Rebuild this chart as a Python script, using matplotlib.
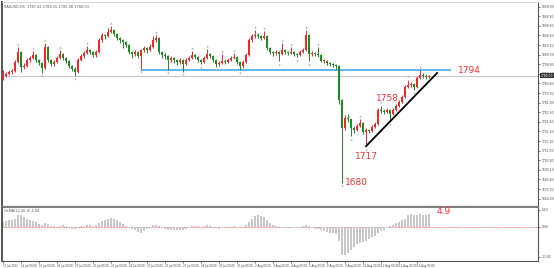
import numpy as np
import matplotlib.pyplot as plt

# XAUUSD H4 candles
closes = [1788, 1790, 1792, 1793, 1802, 1812, 1797, 1798, 1804, 1806,
          1809, 1804, 1801, 1796, 1817, 1804, 1800, 1802, 1806, 1810,
          1806, 1803, 1798, 1795, 1792, 1804, 1808, 1811, 1814, 1812,
          1809, 1812, 1824, 1829, 1828, 1832, 1834, 1830, 1826, 1824,
          1822, 1819, 1812, 1810, 1812, 1808, 1814, 1816, 1814, 1817,
          1824, 1826, 1812, 1809, 1808, 1804, 1806, 1804, 1802, 1804,
          1800, 1804, 1806, 1809, 1807, 1804, 1802, 1806, 1810, 1808,
          1804, 1800, 1801, 1803, 1802, 1804, 1806, 1807, 1802, 1798,
          1802, 1809, 1824, 1828, 1829, 1828, 1826, 1828, 1816, 1812,
          1811, 1812, 1810, 1814, 1812, 1811, 1812, 1810, 1809, 1812,
          1814, 1829, 1810, 1811, 1810, 1809, 1803, 1803, 1801, 1800,
          1799, 1798, 1764, 1735, 1746, 1744, 1735, 1733, 1737, 1740,
          1731, 1733, 1732, 1736, 1739, 1754, 1753, 1752, 1754, 1750,
          1754, 1758, 1762, 1767, 1777, 1779, 1780, 1777, 1786, 1789,
          1788, 1787, 1788]
highs = [1794, 1792, 1794, 1795, 1804, 1817, 1813, 1801, 1806, 1808,
         1813, 1810, 1805, 1802, 1821, 1818, 1805, 1804, 1808, 1814,
         1811, 1807, 1804, 1799, 1797, 1806, 1810, 1813, 1818, 1815,
         1813, 1814, 1826, 1831, 1830, 1836, 1838, 1835, 1831, 1827,
         1825, 1823, 1820, 1813, 1814, 1813, 1815, 1818, 1817, 1820,
         1828, 1829, 1827, 1813, 1811, 1809, 1808, 1807, 1805, 1806,
         1805, 1806, 1808, 1813, 1810, 1808, 1805, 1808, 1815, 1811,
         1809, 1805, 1803, 1810, 1805, 1806, 1808, 1811, 1808, 1803,
         1804, 1811, 1826, 1830, 1834, 1831, 1829, 1833, 1829, 1817,
         1813, 1814, 1813, 1821, 1815, 1813, 1817, 1813, 1811, 1814,
         1816, 1834, 1830, 1813, 1812, 1817, 1810, 1805, 1804, 1802,
         1801, 1800, 1799, 1765, 1749, 1750, 1745, 1737, 1739, 1744,
         1741, 1735, 1734, 1738, 1741, 1756, 1758, 1755, 1756, 1755,
         1756, 1760, 1764, 1769, 1779, 1784, 1782, 1781, 1788, 1794,
         1791, 1790, 1789]
lows = [1784, 1787, 1789, 1790, 1792, 1801, 1792, 1795, 1797, 1802,
        1805, 1802, 1799, 1791, 1795, 1802, 1798, 1798, 1801, 1805,
        1804, 1801, 1796, 1793, 1788, 1791, 1803, 1806, 1810, 1810,
        1807, 1807, 1811, 1822, 1825, 1827, 1831, 1828, 1824, 1821,
        1816, 1817, 1810, 1806, 1808, 1806, 1795, 1812, 1811, 1813,
        1816, 1822, 1810, 1806, 1805, 1794, 1802, 1801, 1799, 1800,
        1792, 1799, 1803, 1805, 1805, 1802, 1800, 1801, 1805, 1806,
        1802, 1797, 1798, 1800, 1800, 1801, 1803, 1805, 1800, 1794,
        1796, 1801, 1808, 1822, 1826, 1826, 1824, 1825, 1814, 1810,
        1808, 1809, 1803, 1809, 1810, 1809, 1810, 1808, 1807, 1808,
        1811, 1813, 1803, 1808, 1808, 1807, 1802, 1801, 1799, 1798,
        1797, 1795, 1760, 1680, 1733, 1741, 1727, 1730, 1732, 1736,
        1729, 1717, 1730, 1731, 1735, 1738, 1751, 1750, 1751, 1742,
        1749, 1753, 1757, 1761, 1766, 1776, 1777, 1774, 1776, 1785,
        1786, 1785, 1786]
first_open = 1786

# oscillator histogram in the lower panel
osma = [2.0, 2.2, 2.4, 2.6, 3.0, 4.4, 4.6, 3.8, 3.0, 2.5,
        2.2, 1.8, 1.2, 0.8, 1.4, 1.0, 0.4, 0.2, 0.0, 0.3,
        0.5, 0.2, -0.2, -0.8, -0.9, -0.3, 0.2, 0.4, 0.6, 0.5,
        0.3, 0.8, 1.6, 2.2, 2.6, 3.0, 3.3, 3.0, 2.4, 1.8,
        1.0, 0.4, -0.4, -1.0, -1.4, -2.0, -2.4, -1.6, -0.8, -0.3,
        0.5, 0.6, 0.2, -0.4, -0.8, -1.2, -1.4, -1.5, -1.5, -1.2,
        -1.3, -0.8, -0.4, 0.2, 0.3, 0.1, -0.1, 0.2, 0.6, 0.4,
        -0.3, -0.7, -0.8, -0.5, -0.4, -0.2, 0.0, 0.2, -0.2, -0.5,
        -0.3, 0.5, 1.8, 3.0, 4.0, 4.6, 4.2, 3.6, 2.4, 1.4,
        0.8, 0.4, 0.0, -0.4, -0.6, -0.6, -0.5, -0.6, -0.7, -0.4,
        0.3, 0.8, 0.2, -0.5, -0.8, -1.0, -1.5, -1.9, -2.2, -2.4,
        -2.7, -3.0, -5.6, -11.0, -11.2, -10.2, -9.0, -8.0, -7.0, -6.4,
        -6.2, -5.6, -4.8, -4.2, -3.6, -2.4, -1.8, -1.2, -0.6, 0.2,
        0.8, 1.4, 2.0, 2.4, 3.0, 4.4, 4.8, 4.5, 4.6, 4.9,
        4.7, 4.6, 4.9]

date_labels = ["13 Jul 2021", "14 Jul 00:00", "15 Jul 00:00", "16 Jul 00:00",
               "19 Jul 00:00", "20 Jul 00:00", "21 Jul 00:00", "22 Jul 00:00",
               "23 Jul 00:00", "26 Jul 00:00", "27 Jul 00:00", "28 Jul 00:00",
               "29 Jul 00:00", "30 Jul 00:00", "2 Aug 00:00", "3 Aug 00:00",
               "4 Aug 00:00", "5 Aug 00:00", "6 Aug 00:00", "9 Aug 00:00",
               "10 Aug 00:00", "11 Aug 00:00", "12 Aug 00:00", "13 Aug 00:00"]

# annotations: horizontal resistance, rising trend line, price notes
resist_level = 1794
resist_span = [46, 149.3]
trend_x = [121, 144.7]
trend_y = [1717, 1791]
notes = [("1794", 151.5, 1794, "left"), ("1758", 128.3, 1765, "center"),
         ("1717", 121, 1707, "center"), ("1680", 114, 1680, "left")]
osma_note = 4.9

UP, DOWN = "#ff2222", "#1f8c1f"
n = len(closes)
x = np.arange(n)
opens = np.array([first_open] + closes[:-1])
closes_a = np.array(closes)
highs_a, lows_a = np.array(highs), np.array(lows)
colors = [UP if c >= o else DOWN for o, c in zip(opens, closes_a)]

fig = plt.figure(figsize=(5.54, 2.68), dpi=100)
ax = fig.add_axes([2 / 554, 61 / 268, 536 / 554, 205 / 268])
ax2 = fig.add_axes([2 / 554, 7 / 268, 536 / 554, 53 / 268], sharex=ax)

# candles
ax.vlines(x, lows_a, highs_a, colors=colors, lw=0.7, zorder=3)
body = np.maximum(np.abs(closes_a - opens), 0.8)
ax.bar(x, body, bottom=np.minimum(opens, closes_a), width=0.7, color=colors,
       lw=0, zorder=4)

# fractal marks
for i in range(2, n - 2):
    nb = [i - 2, i - 1, i + 1, i + 2]
    if highs_a[i] > highs_a[nb].max():
        ax.scatter(i, highs_a[i] + 3.5, marker="^", s=3, color="#b8b8b8", lw=0, zorder=5)
    if lows_a[i] < lows_a[nb].min():
        ax.scatter(i, lows_a[i] - 3.5, marker="v", s=3, color="#b8b8b8", lw=0, zorder=5)

ax.axhline(closes[-1], color="#c8c8c8", lw=0.8, zorder=1)
ax.hlines(resist_level, resist_span[0], resist_span[1], color="#5db8f0", lw=1.4, zorder=2)
ax.plot(trend_x, trend_y, color="black", lw=1.3, zorder=6)
for txt, xi, yi, ha in notes:
    ax.text(xi, yi, txt, color="#ff3030", fontsize=6.5, ha=ha, va="center", zorder=7)

ax.text(0.5, 1858, "XAUUSD,H4  1787.42 1789.15 1785.98 1788.03", fontsize=2.5,
        color="#555555", va="center")
ax.text(179.3, closes[-1], f"{closes[-1]:.2f}", fontsize=2.2, color="white",
        va="center", clip_on=False,
        bbox=dict(boxstyle="square,pad=0.15", fc="#333333", ec="none"))

ax.set_xlim(-0.33, 178.33)
ax.set_ylim(1655.6, 1862.7)
ticks = 1858.0 - 9.7 * np.arange(21)
ax.yaxis.tick_right()
ax.set_yticks(ticks)
ax.set_yticklabels([f"{t:.2f}" for t in ticks])
ax.tick_params(axis="y", labelsize=2.2, colors="#444444", length=1.5, width=0.5, pad=1)
ax.tick_params(axis="x", bottom=False, labelbottom=False)
ax.spines["top"].set_color("#d0d0d0")
ax.spines["top"].set_linewidth(0.6)
ax.spines["left"].set_color("#555555")
ax.spines["left"].set_linewidth(1.4)
ax.spines["right"].set_color("#555555")
ax.spines["right"].set_linewidth(0.8)
ax.spines["bottom"].set_color("#808080")
ax.spines["bottom"].set_linewidth(1.6)

# oscillator panel
ax2.bar(x, osma, width=0.35, color="#c8c8c8", lw=0, zorder=2)
ax2.axhline(0, color="#ff5050", lw=0.6, ls=(0, (1, 1)), zorder=1)
ax2.text(0.5, 6.0, "OsMA(12,26,9) 4.94", fontsize=2.5, color="#555555", va="center")
ax2.text(n + 1.5, osma_note + 1.0, f"{osma_note}", color="#ff3030", fontsize=6.5,
         va="center", ha="left")
ax2.set_ylim(-13.5, 7.3)
ax2.yaxis.tick_right()
ax2.set_yticks([-11.83, 0, 6.63])
ax2.set_yticklabels(["-11.83", "0.00", "6.63"])
ax2.tick_params(axis="y", labelsize=2.2, colors="#444444", length=1.5, width=0.5, pad=1)
ax2.set_xticks(np.arange(len(date_labels)) * 6)
ax2.set_xticklabels(date_labels, ha="left")
ax2.tick_params(axis="x", labelsize=1.9, colors="#444444", length=1.5, width=0.5, pad=0.8)
ax2.spines["top"].set_visible(False)
ax2.spines["left"].set_color("#555555")
ax2.spines["left"].set_linewidth(1.4)
ax2.spines["right"].set_color("#555555")
ax2.spines["right"].set_linewidth(0.8)
ax2.spines["bottom"].set_color("#555555")
ax2.spines["bottom"].set_linewidth(0.8)

fig.savefig("out.png", dpi=100)
